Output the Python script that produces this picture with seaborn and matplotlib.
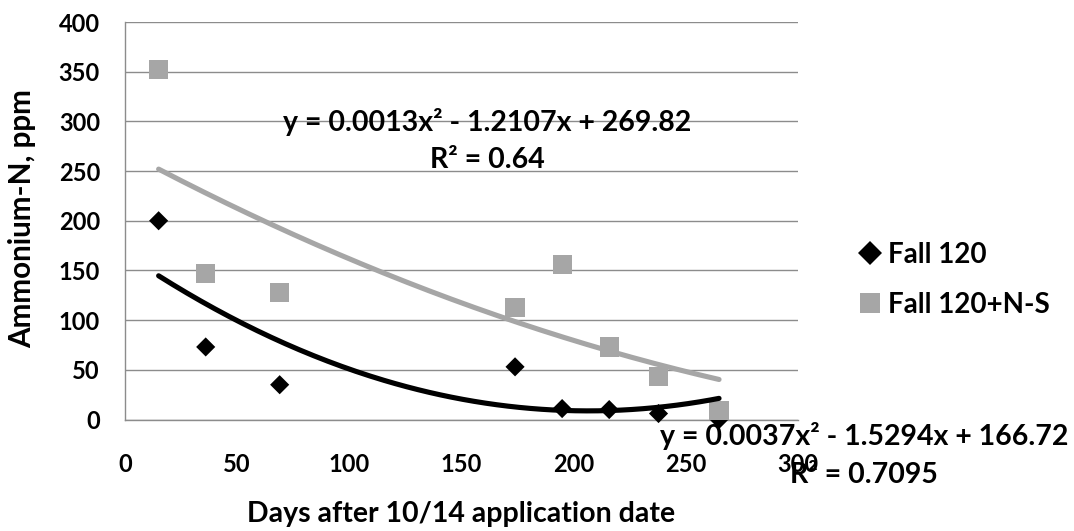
import numpy as np
import pandas as pd
import matplotlib
matplotlib.use("Agg")
import matplotlib.pyplot as plt
import seaborn as sns

# ---- data ----
days = [15, 36, 69, 174, 195, 216, 238, 265]
fall120 = [200, 73, 35, 53, 11, 10, 6, 0]
fall120_ns = [352, 147, 128, 113, 156, 73, 43, 9]
series_names = ["Fall 120", "Fall 120+N-S"]

# polynomial trendline coefficients (as printed on the chart)
coef_fall120 = [0.0037, -1.5294, 166.72]
coef_fall120_ns = [0.0013, -1.2107, 269.82]
eq_fall120 = ["y = 0.0037x\u00b2 - 1.5294x + 166.72", "R\u00b2 = 0.7095"]
eq_fall120_ns = ["y = 0.0013x\u00b2 - 1.2107x + 269.82", "R\u00b2 = 0.64"]

x_ticks = [0, 50, 100, 150, 200, 250, 300]
y_ticks = [0, 50, 100, 150, 200, 250, 300, 350, 400]
x_label = "Days after 10/14 application date"
y_label = "Ammonium-N, ppm"

# ---- styling ----
sns.set_theme(style="white")
plt.rcParams["font.family"] = ["Lato", "DejaVu Sans"]
plt.rcParams["font.weight"] = "bold"
plt.rcParams["text.color"] = "black"
plt.rcParams["axes.labelcolor"] = "black"
plt.rcParams["xtick.color"] = "black"
plt.rcParams["ytick.color"] = "black"

BLACK = "#000000"
GRAY = "#a6a6a6"
GRID = "#8c8c8c"

df = pd.DataFrame({
    "days": days * 2,
    "value": fall120 + fall120_ns,
    "series": [series_names[0]] * len(days) + [series_names[1]] * len(days),
})

W, H = 1074, 531
fig = plt.figure(figsize=(W / 100, H / 100), dpi=100)
left, right, top, bottom = 125, 797.5, 22, 419.5
ax = fig.add_axes([left / W, 1 - bottom / H, (right - left) / W, (bottom - top) / H])

sns.scatterplot(
    data=df, x="days", y="value", hue="series", style="series",
    palette={series_names[0]: BLACK, series_names[1]: GRAY},
    markers={series_names[0]: "D", series_names[1]: "s"},
    size="series", sizes={series_names[0]: 95, series_names[1]: 190},
    linewidth=0, ax=ax, zorder=3, legend=True, clip_on=False,
)

# trendlines
xs = np.linspace(min(days), max(days), 200)
trend = pd.DataFrame({
    "x": np.concatenate([xs, xs]),
    "y": np.concatenate([np.polyval(coef_fall120, xs), np.polyval(coef_fall120_ns, xs)]),
    "series": [series_names[0]] * len(xs) + [series_names[1]] * len(xs),
})
sns.lineplot(
    data=trend, x="x", y="y", hue="series",
    palette={series_names[0]: BLACK, series_names[1]: GRAY},
    linewidth=3.7, ax=ax, legend=False, zorder=4,
)

ax.set_xlim(0, 300)
ax.set_ylim(0, 400)
ax.set_xticks(x_ticks)
ax.set_yticks(y_ticks)
ax.set_xticklabels([str(t) for t in x_ticks], fontsize=17, fontweight="bold")
ax.set_yticklabels([str(t) for t in y_ticks], fontsize=17, fontweight="bold")
ax.yaxis.grid(True, color=GRID, linewidth=1)
ax.xaxis.grid(False)
for s in ["top", "right"]:
    ax.spines[s].set_visible(False)
for s in ["left", "bottom"]:
    ax.spines[s].set_color(GRID)
    ax.spines[s].set_linewidth(1)
ax.tick_params(axis="x", direction="out", length=7, width=1, color=GRID, pad=17, labelcolor="black")
ax.tick_params(axis="y", direction="out", length=8, width=1, color=GRID, pad=10, labelcolor="black")
ax.set_axisbelow(True)

ax.set_ylabel(y_label, fontsize=21.3, fontweight="bold")
ax.yaxis.set_label_coords((22 - left) / (right - left), (bottom - 219) / (bottom - top))
ax.yaxis.label.set_va("center")
ax.set_xlabel(x_label, fontsize=20.5, fontweight="bold")
ax.xaxis.set_label_coords(0.5, (bottom - 514) / (bottom - top))
ax.xaxis.label.set_va("center")

# legend
sns.move_legend(
    ax, "center left", bbox_to_anchor=((856 - left) / (right - left), (bottom - 280) / (bottom - top)),
    frameon=False, title=None, fontsize=20, handlelength=1.0, handletextpad=0.15,
    labelspacing=0.85, borderpad=0, borderaxespad=0,
)
leg = ax.get_legend()
for t in leg.get_texts():
    t.set_fontweight("bold")
for h, ms in zip(leg.legend_handles, [12.5, 14]):
    h.set_markersize(ms)

# trendline equations
eq_fs = 20.5
fig.text(487 / W, 1 - 121.7 / H, eq_fall120_ns[0], ha="center", va="center", fontsize=eq_fs, fontweight="bold")
fig.text(487 / W, 1 - 160 / H, eq_fall120_ns[1], ha="center", va="center", fontsize=eq_fs, fontweight="bold")
fig.text(864 / W, 1 - 436 / H, eq_fall120[0], ha="center", va="center", fontsize=eq_fs, fontweight="bold")
fig.text(864 / W, 1 - 475 / H, eq_fall120[1], ha="center", va="center", fontsize=eq_fs, fontweight="bold")

fig.savefig("out.png", dpi=100, facecolor="white")
